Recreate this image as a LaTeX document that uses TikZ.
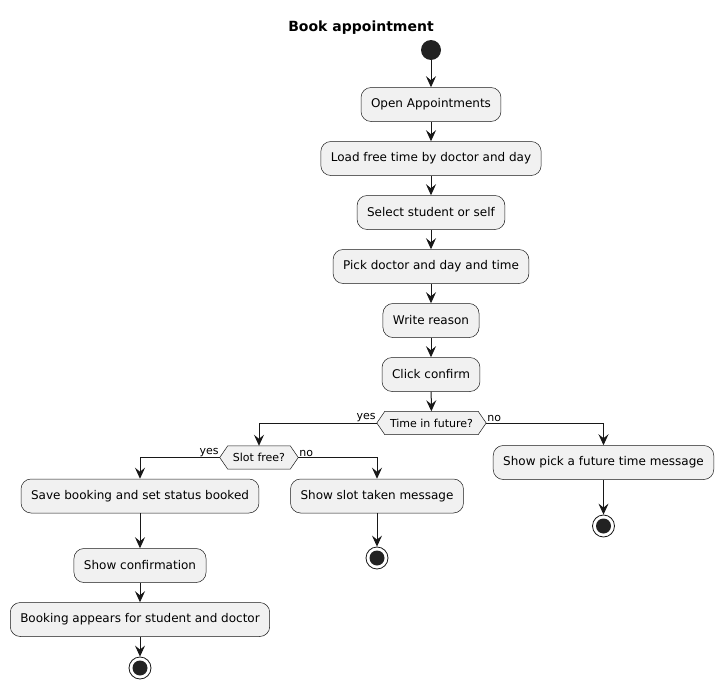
\documentclass[tikz,border=0pt]{standalone}
\usepackage{fontspec}
\setmainfont{DejaVu Sans}
\usetikzlibrary{arrows.meta,backgrounds}
\definecolor{boxfill}{HTML}{F1F1F1}
\definecolor{edge}{HTML}{181818}
\definecolor{dot}{HTML}{222222}
\tikzset{
  act/.style={draw=edge, fill=boxfill, line width=0.5pt, rounded corners=10pt,
    minimum height=34pt, inner xsep=10pt, inner ysep=0pt, font=\fontsize{12}{14}\selectfont},
  dec/.style={minimum height=23pt, inner xsep=13pt, inner ysep=0pt, font=\fontsize{11}{13}\selectfont},
  hexa/.style={draw=edge, fill=boxfill, line width=0.5pt},
  startdot/.style={circle, fill=dot, minimum size=20pt, inner sep=0pt},
  enddot/.style={circle, draw=edge, fill=white, line width=0.8pt, minimum size=22pt, inner sep=0pt,
    path picture={\fill[dot] (path picture bounding box.center) circle (7.5pt);}},
  flow/.style={draw=edge, line width=1pt, -{Stealth[length=11pt,width=10pt,inset=4pt]}},
  lbl/.style={font=\fontsize{11}{13}\selectfont, inner sep=1pt}
}
\newcommand{\hexagonaround}[1]{%
  \begin{scope}[on background layer]
  \draw[hexa] (#1.west) -- ([xshift=8pt]#1.north west) -- ([xshift=-8pt]#1.north east) -- (#1.east)
    -- ([xshift=-8pt]#1.south east) -- ([xshift=8pt]#1.south west) -- cycle;
  \end{scope}}
\begin{document}
\begin{tikzpicture}[x=1pt,y=-1pt]
\useasboundingbox (0,0) rectangle (724,688);
\node[font=\fontsize{14}{16}\selectfont\bfseries] (title) at (361,28) {Book appointment};
\node[startdot] (start) at (431,50) {};
\node[act] (open) at (431,104.5) {Open Appointments};
\node[act] (load) at (431,158.5) {Load free time by doctor and day};
\node[act] (select) at (431,212.5) {Select student or self};
\node[act] (pickdoc) at (431,266.5) {Pick doctor and day and time};
\node[act] (write) at (431,320.5) {Write reason};
\node[act] (click) at (431,374.5) {Click confirm};
\node[dec] (d1) at (431.5,423) {Time in future?};
\hexagonaround{d1}
\node[dec] (sf) at (259,457.5) {Slot free?};
\hexagonaround{sf}
\node[act] (save) at (140,496) {Save booking and set status booked};
\node[act] (conf) at (140,565.5) {Show confirmation};
\node[act] (appear) at (140,619.5) {Booking appears for student and doctor};
\node[enddot] (endA) at (140,668) {};
\node[act] (taken) at (377,496) {Show slot taken message};
\node[enddot] (endB) at (377,558) {};
\node[act] (future) at (603.5,462.5) {Show pick a future time message};
\node[enddot] (endC) at (603.5,526) {};

\draw[flow] (start) -- (open);
\draw[flow] (open) -- (load);
\draw[flow] (load) -- (select);
\draw[flow] (select) -- (pickdoc);
\draw[flow] (pickdoc) -- (write);
\draw[flow] (write) -- (click);
\draw[flow] (click) -- (d1);
\draw[flow] (d1.west) -| (sf.north);
\draw[flow] (d1.east) -| (future.north);
\draw[flow] (sf.west) -| (save.north);
\draw[flow] (sf.east) -| (taken.north);
\draw[flow] (save) -- (conf);
\draw[flow] (conf) -- (appear);
\draw[flow] (appear) -- (endA);
\draw[flow] (taken) -- (endB);
\draw[flow] (future) -- (endC);
\node[lbl, anchor=south east] (l1) at (d1.west) {yes};
\node[lbl, anchor=south west] (l2) at (d1.east) {no};
\node[lbl, anchor=south east] (l3) at (sf.west) {yes};
\node[lbl, anchor=south west] (l4) at (sf.east) {no};
\end{tikzpicture}
\end{document}
